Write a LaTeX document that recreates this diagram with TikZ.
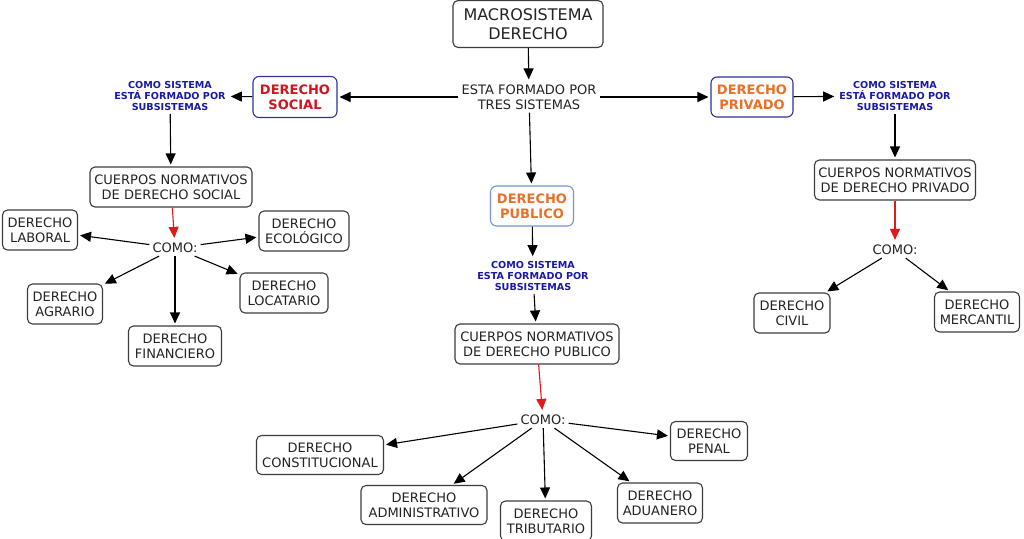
\documentclass[tikz,border=0pt]{standalone}
\usepackage{fontspec}
\setmainfont{DejaVu Sans}
\usetikzlibrary{arrows.meta}
\definecolor{boxline}{RGB}{60,60,60}
\definecolor{textgray}{RGB}{35,35,35}
\definecolor{navyline}{RGB}{50,50,150}
\definecolor{lightline}{RGB}{120,150,205}
\definecolor{socialred}{RGB}{210,20,30}
\definecolor{privorange}{RGB}{232,112,40}
\definecolor{subblue}{RGB}{25,25,165}
\definecolor{arrred}{RGB}{225,25,25}
\tikzset{
  box/.style={draw=boxline, line width=1.1pt, rounded corners=5pt, align=center, text=textgray,
    font=\fontsize{13}{15}\selectfont, minimum height=40pt, inner xsep=3pt, fill=white},
  hbox/.style={draw=navyline, line width=1.1pt, rounded corners=6pt, align=center,
    font=\bfseries\fontsize{13}{15}\selectfont, minimum height=40pt, minimum width=83pt, fill=white},
  lbl/.style={align=center, font=\fontsize{13}{15}\selectfont, text=textgray, inner sep=3pt},
  sub/.style={align=center, font=\bfseries\fontsize{9.6}{11}\selectfont, text=subblue, inner sep=3pt},
  arr/.style={-{Triangle[length=11pt,width=10pt]}, line width=1.1pt, draw=black, shorten >=2pt},
  redarr/.style={arr, draw=arrred, -{Triangle[length=11pt,width=10pt,fill=arrred]}}
}
\begin{document}
\begin{tikzpicture}[x=1pt,y=-1pt]
\useasboundingbox[fill=white] (0,0) rectangle (1024,538);
% top
\node[box, font=\fontsize{16}{19}\selectfont, minimum width=150pt, minimum height=47pt] (macro) at (528,24) {MACROSISTEMA\\DERECHO};
\node[lbl] (esta) at (529,97) {ESTA FORMADO POR\\TRES SISTEMAS};
\node[hbox, text=socialred, minimum width=84pt, minimum height=41pt] (social) at (295,97) {DERECHO\\SOCIAL};
\node[hbox, text=privorange, minimum width=82pt] (privado) at (752,97) {DERECHO\\PRIVADO};
\node[hbox, draw=lightline, text=privorange] (publico) at (532,206) {DERECHO\\PUBLICO};
\node[sub] (csl) at (170,96) {COMO SISTEMA\\ESTÁ FORMADO POR\\SUBSISTEMAS};
\node[sub] (csr) at (895,96) {COMO SISTEMA\\ESTÁ FORMADO POR\\SUBSISTEMAS};
\node[sub] (csm) at (533,276) {COMO SISTEMA\\ESTA FORMADO POR\\SUBSISTEMAS};
% cuerpos normativos
\node[box, minimum width=162pt] (cnds) at (171,187) {CUERPOS NORMATIVOS\\DE DERECHO SOCIAL};
\node[box, minimum width=161pt] (cndv) at (895,180) {CUERPOS NORMATIVOS\\DE DERECHO PRIVADO};
\node[box, minimum width=164pt] (cndp) at (537,344) {CUERPOS NORMATIVOS\\DE DERECHO PUBLICO};
% como
\node[lbl] (comol) at (175,248) {COMO:};
\node[lbl] (comor) at (895,250) {COMO:};
\node[lbl] (comom) at (543,420) {COMO:};
% social leaves
\node[box, minimum width=75pt] (laboral) at (40,230) {DERECHO\\LABORAL};
\node[box, minimum width=90pt] (ecologico) at (304,231) {DERECHO\\ECOLÓGICO};
\node[box, minimum width=75pt] (agrario) at (65,304) {DERECHO\\AGRARIO};
\node[box, minimum width=88pt] (locatario) at (284,293) {DERECHO\\LOCATARIO};
\node[box, minimum width=93pt] (financiero) at (175,346) {DERECHO\\FINANCIERO};
% private leaves
\node[box, minimum width=76pt] (civil) at (792,313) {DERECHO\\CIVIL};
\node[box, minimum width=85pt] (mercantil) at (977,312) {DERECHO\\MERCANTIL};
% public leaves
\node[box, minimum width=127pt, minimum height=39pt] (constitucional) at (320,455) {DERECHO\\CONSTITUCIONAL};
\node[box, minimum width=77pt, minimum height=39pt] (penal) at (709,441) {DERECHO\\PENAL};
\node[box, minimum width=126pt, minimum height=39pt] (admin) at (424,505) {DERECHO\\ADMINISTRATIVO};
\node[box, minimum width=91pt] (tributario) at (546,521) {DERECHO\\TRIBUTARIO};
\node[box, minimum width=85pt] (aduanero) at (660,503) {DERECHO\\ADUANERO};
% connectors
\draw[arr] (macro) -- (esta);
\draw[arr] (esta) -- (social);
\draw[arr] (esta) -- (privado);
\draw[arr] (esta) -- (publico);
\draw[arr] (social) -- (csl);
\draw[arr] (privado) -- (csr);
\draw[arr] (publico) -- (csm);
\draw[arr] (csl) -- (cnds);
\draw[arr] (csr) -- (cndv);
\draw[arr] (csm) -- (cndp);
\draw[redarr] (cnds) -- (comol);
\draw[redarr] (cndv) -- (comor);
\draw[redarr] (cndp) -- (comom);
\draw[arr] (comol) -- (laboral);
\draw[arr] (comol) -- (ecologico);
\draw[arr] (comol) -- (agrario);
\draw[arr] (comol) -- (financiero);
\draw[arr] (comol) -- (locatario);
\draw[arr] (comor) -- (civil);
\draw[arr] (comor) -- (mercantil);
\draw[arr] (comom) -- (constitucional);
\draw[arr] (comom) -- (penal);
\draw[arr] (comom) -- (admin);
\draw[arr] (comom) -- (tributario);
\draw[arr] (comom) -- (aduanero);
\end{tikzpicture}
\end{document}
